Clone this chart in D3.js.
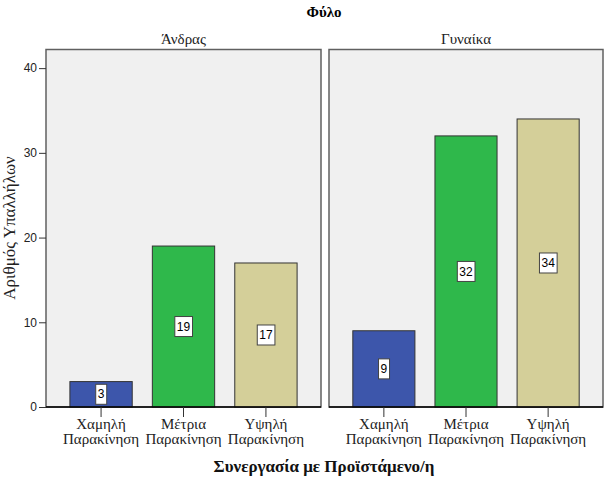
<!DOCTYPE html>
<html><head><meta charset="utf-8">
<script src="https://cdn.jsdelivr.net/npm/d3@7"></script>
<style>body{margin:0;background:#fff}svg{display:block}</style>
</head><body><svg id="c" width="606" height="479"></svg>
<script>
const panels = ["Άνδρας", "Γυναίκα"];
const categories = [["Χαμηλή", "Παρακίνηση"], ["Μέτρια", "Παρακίνηση"], ["Υψηλή", "Παρακίνηση"]];
const catKeys = ["Χαμηλή Παρακίνηση", "Μέτρια Παρακίνηση", "Υψηλή Παρακίνηση"];
const valuesMen = [3, 19, 17];
const valuesWomen = [9, 32, 34];
const colors = ["#3d56ab", "#2fb84b", "#d4cf99"];
const yTicks = [0, 10, 20, 30, 40];
const title = "Φύλο";
const yTitle = "Αριθμός Υπαλλήλων";
const xTitle = "Συνεργασία με Προϊστάμενο/η";

(function(){
const svg = d3.select("#c");
const serif = "'Liberation Serif','DejaVu Serif',serif";
const sans = "'Liberation Sans',Arial,sans-serif";
const plotTop = 49.5, plotBottom = 407;
const y = d3.scaleLinear().domain([0, 42.2]).range([plotBottom, plotTop]);
const panelX = [[46, 321], [329, 603]];
const data = [valuesMen, valuesWomen];

svg.append("text").attr("x", 324).attr("y", 17).attr("text-anchor", "middle")
  .attr("font-family", serif).attr("font-weight", "bold").attr("font-size", 15).text(title);

panels.forEach((p, i) => {
  const [x0, x1] = panelX[i];
  const x = d3.scaleBand().domain(catKeys).range([x0, x1]).paddingInner(0.244).paddingOuter(0.29);
  const g = svg.append("g");
  g.append("rect").attr("x", x0).attr("y", plotTop).attr("width", x1 - x0).attr("height", plotBottom - plotTop)
    .attr("fill", "#f0f0f0").attr("stroke", "#606060").attr("stroke-width", 1.5);
  g.append("text").attr("x", (x0 + x1) / 2).attr("y", 44).attr("text-anchor", "middle")
    .attr("font-family", serif).attr("font-size", 15).attr("fill", "#222").text(p);
  g.selectAll("rect.bar").data(data[i]).enter().append("rect").attr("class", "bar")
    .attr("x", (d, j) => x(catKeys[j])).attr("width", x.bandwidth())
    .attr("y", d => y(d)).attr("height", d => plotBottom - y(d))
    .attr("fill", (d, j) => colors[j]).attr("stroke", "#333").attr("stroke-width", 1);
  const ax = g.append("g").attr("transform", `translate(0,${plotBottom})`)
    .call(d3.axisBottom(x).tickSize(10).tickFormat(""));
  ax.select(".domain").attr("stroke", "#000").attr("stroke-width", 1.5)
    .attr("d", `M${x0},0H${x1}`);
  ax.selectAll(".tick line").attr("stroke", "#333");
  catKeys.forEach((k, j) => {
    const t = g.append("text").attr("text-anchor", "middle").attr("font-family", serif)
      .attr("font-size", 15).attr("fill", "#222");
    t.append("tspan").attr("x", x(k) + x.bandwidth() / 2).attr("y", 429).text(categories[j][0]);
    t.append("tspan").attr("x", x(k) + x.bandwidth() / 2).attr("y", 444).text(categories[j][1]);
  });
  data[i].forEach((v, j) => {
    const cx = x(catKeys[j]) + x.bandwidth() / 2, cy = y(v / 2);
    const lab = g.append("g");
    const t = lab.append("text").attr("x", cx).attr("y", cy).attr("dy", "0.35em").attr("text-anchor", "middle")
      .attr("font-family", sans).attr("font-size", 12).attr("fill", "#000").text(v);
    const bb = t.node().getBBox();
    lab.insert("rect", "text").attr("x", bb.x - 2).attr("y", cy - 10).attr("width", bb.width + 4).attr("height", 20)
      .attr("fill", "#fff").attr("stroke", "#444").attr("stroke-width", 1);
  });
});

const yax = svg.append("g").attr("transform", `translate(${panelX[0][0]},0)`)
  .call(d3.axisLeft(y).tickValues(yTicks).tickSize(7).tickPadding(2));
yax.select(".domain").remove();
yax.selectAll(".tick line").attr("stroke", "#333");
yax.selectAll(".tick text").attr("font-family", sans).attr("font-size", 12).attr("fill", "#222");

svg.append("text").attr("transform", "translate(15,228) rotate(-90)").attr("text-anchor", "middle")
  .attr("font-family", serif).attr("font-size", 17).attr("fill", "#222").text(yTitle);
svg.append("text").attr("x", 324).attr("y", 472).attr("text-anchor", "middle")
  .attr("font-family", serif).attr("font-weight", "bold").attr("font-size", 17).attr("fill", "#111").text(xTitle);
})();
</script></body></html>
